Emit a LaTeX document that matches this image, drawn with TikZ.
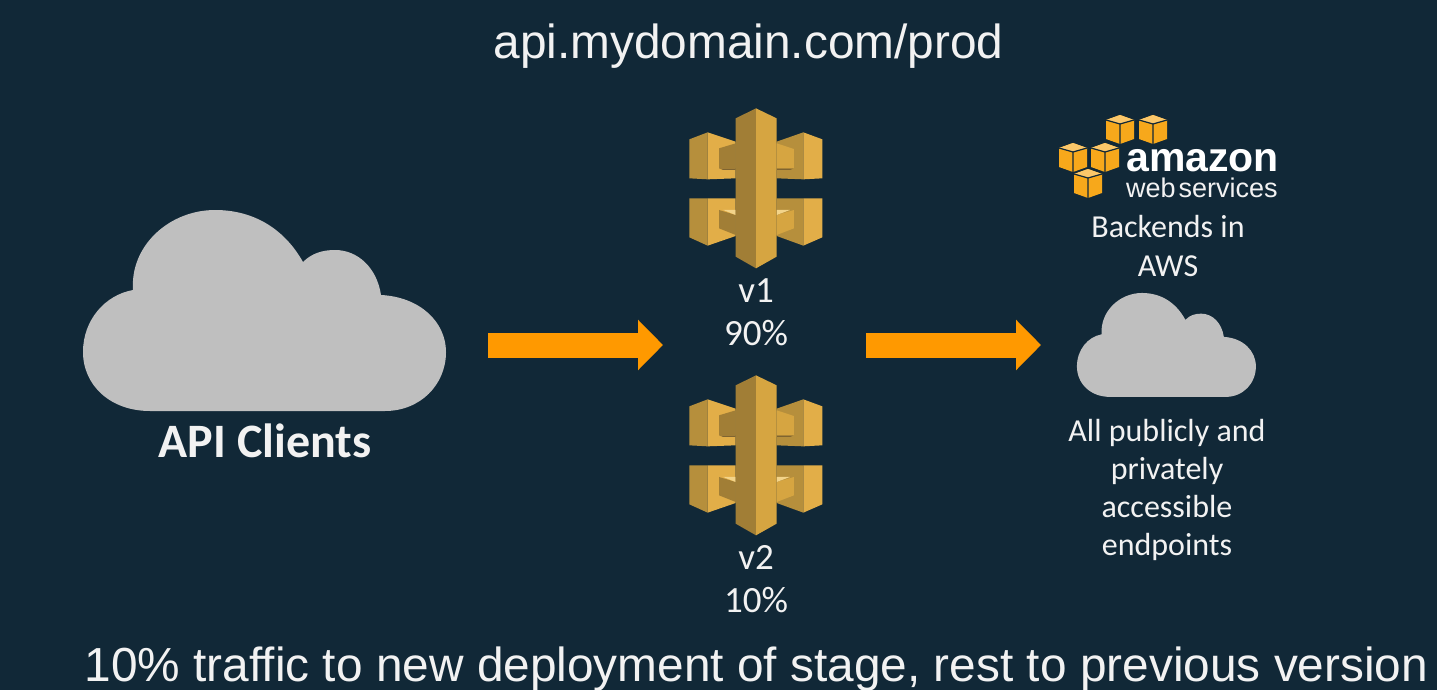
\documentclass[tikz,border=0pt]{standalone}
\usepackage{fontspec}
\setmainfont{Liberation Sans}
\newfontfamily\calfont{Carlito}
\usetikzlibrary{arrows.meta}
\definecolor{bgc}{HTML}{112837}
\definecolor{txt}{HTML}{F2F2F2}
\definecolor{cloudc}{HTML}{BFBFBF}
\definecolor{orangec}{HTML}{FF9900}
\definecolor{gl}{HTML}{E2AE48}
\definecolor{gm}{HTML}{B68F3C}
\definecolor{gd}{HTML}{A17E36}
\definecolor{gc}{HTML}{D6A541}
\definecolor{gs}{HTML}{7F6430}
\definecolor{gh}{HTML}{F3D48A}
\definecolor{cubec}{HTML}{F7A81B}
\definecolor{cubet}{HTML}{FBC76A}
\newcommand{\gateway}[2]{%
\begin{scope}[shift={(#1,#2)},x=0.3333pt,y=-0.3333pt]
\fill[gm] (58,118)--(113,97)--(113,238)--(58,235)--cycle;
\fill[gl] (113,97)--(197,125)--(197,235)--(113,238)--cycle;
\fill[gs] (147,205)--(197,205)--(197,210)--(160,210)--cycle;
\fill[gd] (147,145)--(197,130)--(197,205)--(147,205)--cycle;
\fill[gm] (320,125)--(400,97)--(400,238)--(320,235)--cycle;
\fill[gl] (400,97)--(457,118)--(457,235)--(400,238)--cycle;
\fill[gs] (320,205)--(372,205)--(360,210)--(320,210)--cycle;
\fill[gc] (320,130)--(372,147)--(372,205)--(320,205)--cycle;
\fill[gm] (58,295)--(113,295)--(113,437)--(58,412)--cycle;
\fill[gl] (113,295)--(197,295)--(197,408)--(113,437)--cycle;
\fill[gd] (147,330)--(197,345)--(197,405)--(147,385)--cycle;
\fill[gh] (160,330)--(197,330)--(197,345)--cycle;
\fill[gm] (320,295)--(400,295)--(400,437)--(320,408)--cycle;
\fill[gl] (400,295)--(457,295)--(457,412)--(400,437)--cycle;
\fill[gc] (320,345)--(372,330)--(372,385)--(320,405)--cycle;
\fill[gh] (320,330)--(360,330)--(320,345)--cycle;
\fill[gd] (258,25)--(197,55)--(197,470)--(258,505)--cycle;
\fill[gc] (258,25)--(320,55)--(320,470)--(258,505)--cycle;
\end{scope}}
\newcommand{\cloudshape}[4]{%
\begin{scope}[shift={(#1,#2)},xscale=#3,yscale=#4]
\fill[cloudc] (150,411) .. controls (110,411) and (83,385) .. (83,352)
 .. controls (83,320) and (105,295) .. (133,290)
 .. controls (130,245) and (170,210) .. (215,210)
 .. controls (255,210) and (285,230) .. (303,262)
 .. controls (312,253) and (323,250) .. (335,250)
 .. controls (358,250) and (377,268) .. (381,295)
 .. controls (420,297) and (446,322) .. (446,352)
 .. controls (446,385) and (420,411) .. (385,411) -- cycle;
\end{scope}}
\newcommand{\awscube}[2]{%
\begin{scope}[shift={(#1,#2)}]
\fill[cubec] (-14,-9)--(0,-14)--(14,-9)--(14,10)--(0,15)--(-14,10)--cycle;
\fill[cubet] (-14,-9)--(0,-14)--(14,-9)--(0,-5)--cycle;
\draw[bgc,line width=1.2pt] (-14,-9)--(0,-5)--(14,-9) (0,-5)--(0,15);
\end{scope}}
\tikzset{
 label30/.style={text=txt,align=center,font=\calfont\fontsize{32}{38.3}\selectfont,inner sep=0pt},
 pct/.style={text=txt,align=center,font=\calfont\fontsize{37}{43}\selectfont,inner sep=0pt},
 heading/.style={text=txt,inner sep=0pt,font=\fontsize{47.8}{52}\selectfont},
 flow/.style={orangec,line width=25pt,-{Triangle[length=25pt,width=49pt]}}
}
\begin{document}
\begin{tikzpicture}[x=1pt,y=-1pt]
\useasboundingbox (0,0) rectangle (1437,690);
\fill[bgc] (0,0) rectangle (1437,690);
\node[heading] (title) at (748.5,46) {api.mydomain.com/prod};
\node[heading] (foot) at (756.5,669) {10\% traffic to new deployment of stage, rest to previous version};
\cloudshape{0}{0}{1}{1}
\node[text=txt,inner sep=0pt,font=\calfont\bfseries\fontsize{48}{52}\selectfont] (clients) at (265,441) {API Clients};
\gateway{670}{100}
\gateway{670}{367}
\node[pct] (v1) at (756,312) {v1\\90\%};
\node[pct] (v2) at (756,579) {v2\\10\%};
\coordinate (a1) at (488,345);
\coordinate (a2) at (663,345);
\coordinate (b1) at (866,345);
\coordinate (b2) at (1041,345);
\draw[flow] (a1) -- (a2);
\draw[flow] (b1) -- (b2);
\awscube{1120}{129}
\awscube{1153}{129}
\awscube{1073}{157}
\awscube{1105}{157}
\awscube{1088}{183}
\node[text=white,inner sep=0pt,anchor=base west,font=\bfseries\fontsize{41}{44}\selectfont] (amazon) at (1126,171) {amazon};
\node[text=txt,inner sep=0pt,anchor=base west,font=\fontsize{27}{28}\selectfont] (web) at (1126,197) {web\hspace{3pt}services};
\node[label30] (back) at (1168,246) {Backends in\\AWS};
\cloudshape{1036}{184.4}{0.493}{0.517}
\node[label30] (ends) at (1167,490) {All publicly and\\privately\\accessible\\endpoints};
\end{tikzpicture}
\end{document}
